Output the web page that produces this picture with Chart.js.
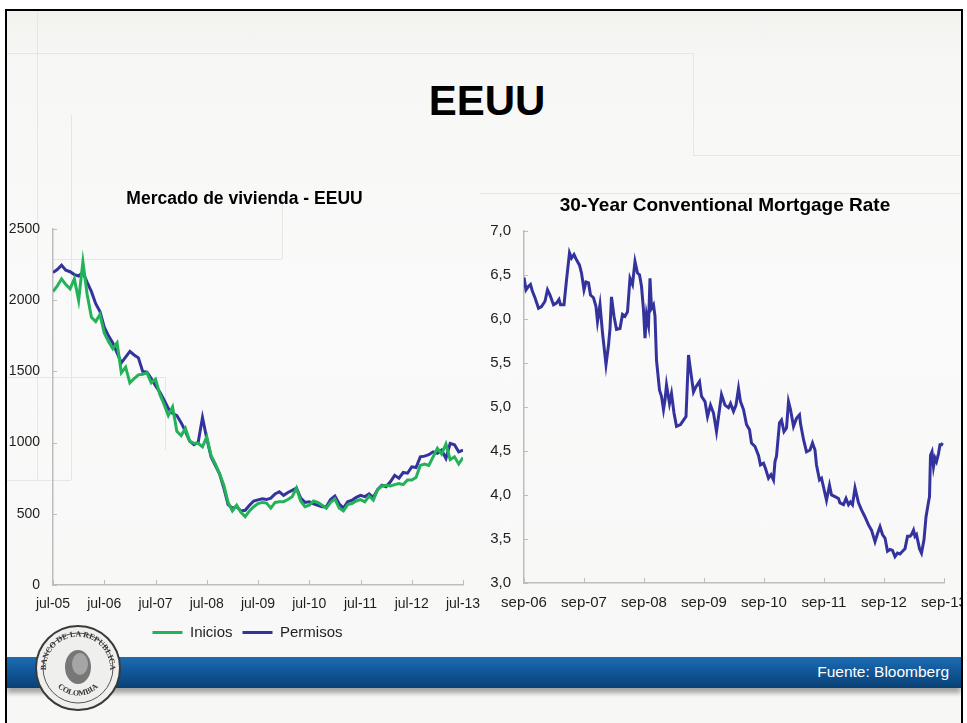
<!DOCTYPE html>
<html>
<head>
<meta charset="utf-8">
<script src="https://cdn.jsdelivr.net/npm/chart.js@4.4.0/dist/chart.umd.min.js"></script>
<style>
html, body { margin: 0; padding: 0; background: #fff; }
body { width: 967px; height: 723px; position: relative; overflow: hidden; font-family: "Liberation Sans", Arial, sans-serif; }
#slide { position: absolute; left: 7px; top: 11px; width: 954px; height: 720px;
  background: linear-gradient(#f2f3ef 0px, #f7f7f5 50px, #fafafa 300px, #f7f7f6 720px); }
#frame { position: absolute; left: 5px; top: 9px; width: 954px; height: 730px; border: 2px solid #000;
  box-shadow: 0 0 0 30px #fff; z-index: 10; pointer-events: none; }
.deco { position: absolute; border-color: #e6e6e4; border-style: solid; border-width: 0; z-index: 1; }
#title { position: absolute; left: 0; width: 974px; top: 77px; text-align: center; font-weight: bold; font-size: 42px; color: #000; z-index: 2; }
.box { position: absolute; z-index: 3; }
#band { position: absolute; left: 7px; top: 657px; width: 954px; height: 31px; z-index: 4;
  background: linear-gradient(#1d6cb3 0%, #11589a 45%, #0a4174 100%); box-shadow: 0 5px 5px rgba(0,0,0,0.35); }
#fuente { position: absolute; right: 12px; top: 6px; color: #fff; font-size: 15.5px; }
#logo { position: absolute; left: 34px; top: 624px; z-index: 5; }
</style>
</head>
<body>
<div id="slide"></div>
<div class="deco" style="left:7px;top:53px;width:686px;border-top-width:1px;"></div>
<div class="deco" style="left:693px;top:53px;height:102px;border-left-width:1px;"></div>
<div class="deco" style="left:693px;top:155px;width:268px;border-top-width:1px;"></div>
<div class="deco" style="left:37px;top:11px;height:470px;border-left-width:1px;"></div>
<div class="deco" style="left:71px;top:115px;height:365px;border-left-width:1px;"></div>
<div class="deco" style="left:7px;top:480px;width:64px;border-top-width:1px;"></div>
<div class="deco" style="left:53px;top:259px;width:229px;border-top-width:1px;"></div>
<div class="deco" style="left:282px;top:190px;height:69px;border-left-width:1px;"></div>
<div class="deco" style="left:7px;top:377px;width:158px;border-top-width:1px;"></div>
<div class="deco" style="left:165px;top:377px;height:73px;border-left-width:1px;"></div>
<div class="deco" style="left:480px;top:193px;width:481px;border-top-width:1px;"></div>
<div id="title">EEUU</div>

<div class="box" style="left:0;top:180px;width:490px;height:470px;"><canvas id="vivienda"></canvas></div>
<div class="box" style="left:480px;top:180px;width:487px;height:440px;"><canvas id="tasa"></canvas></div>

<div id="band"><div id="fuente">Fuente: Bloomberg</div></div>
<svg id="logo" width="88" height="88" viewBox="0 0 88 88">
  <defs>
    <path id="arcTop" d="M 15 58 A 32 32 0 1 1 73 58"/>
    <path id="arcBot" d="M 18 54 A 28 28 0 0 0 70 54"/>
  </defs>
  <circle cx="44" cy="44" r="42" fill="#efefed" stroke="#3a3a3a" stroke-width="2"/>
  <circle cx="44" cy="44" r="35" fill="none" stroke="#555" stroke-width="1"/>
  <text font-family="Liberation Serif, serif" font-size="8" font-weight="bold" fill="#333"><textPath href="#arcTop" startOffset="50%" text-anchor="middle">BANCO DE LA REPUBLICA</textPath></text>
  <text font-family="Liberation Serif, serif" font-size="8" font-weight="bold" fill="#333"><textPath href="#arcBot" startOffset="50%" text-anchor="middle">COLOMBIA</textPath></text>
  <ellipse cx="44" cy="43" rx="13" ry="17" fill="#777"/>
  <ellipse cx="46" cy="40" rx="8" ry="11" fill="#a5a5a5"/>
</svg>
<div id="frame"></div>

<script>
// Mercado de vivienda - EEUU (miles de unidades, mensual jul-05 .. jul-13)
var mesesViv = ['jul-05', 'jul-06', 'jul-07', 'jul-08', 'jul-09', 'jul-10', 'jul-11', 'jul-12', 'jul-13'];
var inicios = [
	2060, 2100, 2150, 2110, 2080, 2150, 2000, 2270, 2040, 1880, 1850, 1900,
	1770, 1710, 1660, 1700, 1490, 1530, 1420, 1450, 1476, 1480, 1490, 1420,
	1445, 1340, 1270, 1190, 1250, 1080, 1050, 1100, 1010, 995, 995, 970,
	1040, 910, 850, 780, 700, 580, 520, 560, 510, 480, 520, 550,
	572, 580, 575, 540, 580, 584, 585, 600, 620, 680, 590, 550,
	560, 590, 580, 560, 540, 580, 605, 540, 520, 565, 572, 590,
	600, 584, 625, 596, 670, 695, 700, 695, 705, 712, 705, 737,
	737, 755, 840, 850, 840, 900, 960, 920, 990, 880, 900, 850,
	895
];
var permisos = [
	2195, 2215, 2245, 2210, 2200, 2180, 2170, 2195, 2125, 2060, 1975, 1920,
	1810, 1750, 1700, 1630, 1560, 1600, 1640, 1615, 1595, 1500, 1495, 1450,
	1400, 1355, 1300, 1240, 1205, 1190, 1140, 1080, 1010, 985, 1003, 1176,
	1030, 900, 840, 780, 680, 565, 540, 550, 520, 525, 560, 590,
	598, 605, 600, 610, 640, 655, 630, 650, 665, 680, 610, 580,
	585, 570, 560, 550, 550, 600, 625, 570, 540, 585, 595, 615,
	630, 620, 640, 615, 670, 700, 690, 725, 770, 750, 790, 785,
	830, 825, 900, 905, 915, 935, 925, 948, 889, 995, 985, 935,
	948
];

// 30-Year Conventional Mortgage Rate (meses desde sep-06, tasa %)
var mesesTasa = ['sep-06', 'sep-07', 'sep-08', 'sep-09', 'sep-10', 'sep-11', 'sep-12', 'sep-13'];
var tasaMes = [
	0.0, 0.4, 0.9, 1.3, 1.7, 2.2, 2.9, 3.5, 4.2, 4.7, 5.2, 5.9, 6.5, 7.0, 7.3, 8.0,
	8.5, 9.1, 9.5, 10.0, 10.5, 11.1, 11.5, 12.0, 12.4, 12.9, 13.3, 13.9, 14.4, 14.7, 15.2, 15.7,
	16.4, 16.9, 17.2, 17.5, 18.0, 18.5, 19.2, 19.7, 20.2, 20.7, 21.2, 21.7, 22.2, 22.7, 23.1, 23.5,
	23.9, 24.2, 24.5, 24.9, 25.2, 25.5, 25.9, 26.2, 26.5, 27.1, 27.5, 27.9, 28.2, 28.5, 29.1, 29.5,
	30.0, 30.5, 31.3, 31.9, 32.4, 32.9, 33.3, 33.9, 34.4, 35.1, 35.5, 36.2, 36.7, 37.3, 37.9, 38.5,
	39.1, 39.5, 40.2, 40.9, 41.3, 41.9, 42.4, 42.9, 43.3, 43.9, 44.5, 45.1, 45.5, 46.2, 46.9, 47.3,
	47.9, 48.3, 48.9, 49.4, 49.9, 50.2, 50.5, 51.1, 51.5, 52.0, 52.5, 52.9, 53.3, 53.9, 54.5, 55.1,
	55.3, 55.9, 56.5, 57.2, 57.7, 58.2, 58.5, 59.1, 59.5, 59.9, 60.5, 61.1, 61.5, 62.2, 62.9, 63.2,
	63.9, 64.4, 64.9, 65.3, 65.7, 66.2, 66.9, 67.5, 68.2, 68.9, 69.5, 70.2, 70.7, 71.2, 71.7, 72.2,
	72.7, 73.2, 73.7, 74.2, 74.7, 75.2, 75.7, 76.2, 76.7, 77.2, 77.5, 77.9, 78.2, 78.5, 79.1, 79.5,
	80.0, 80.4, 80.9, 81.1, 81.3, 81.6, 81.9, 82.2, 82.5, 82.9, 83.2, 83.5, 83.7
];
var tasa = [
	6.47, 6.33, 6.37, 6.39, 6.31, 6.24, 6.12, 6.14, 6.20, 6.33, 6.27, 6.16, 6.18, 6.22, 6.16, 6.16,
	6.44, 6.75, 6.69, 6.73, 6.67, 6.61, 6.52, 6.33, 6.42, 6.41, 6.27, 6.24, 6.14, 5.97, 6.16, 5.84,
	5.48, 5.70, 5.89, 6.25, 6.03, 5.88, 5.89, 6.05, 6.03, 6.08, 6.46, 6.39, 6.65, 6.52, 6.50, 6.37,
	6.10, 5.78, 6.05, 5.93, 6.46, 6.12, 6.16, 6.03, 5.53, 5.19, 5.12, 4.97, 5.08, 5.25, 5.04, 5.15,
	4.93, 4.78, 4.80, 4.85, 4.89, 5.59, 5.42, 5.17, 5.23, 5.29, 5.12, 5.06, 4.89, 5.02, 4.93, 4.72,
	4.97, 5.14, 5.02, 4.99, 5.04, 4.95, 5.02, 5.21, 5.06, 4.97, 4.80, 4.74, 4.59, 4.55, 4.45, 4.34,
	4.36, 4.30, 4.19, 4.23, 4.17, 4.38, 4.44, 4.82, 4.85, 4.72, 4.76, 5.06, 4.97, 4.78, 4.87, 4.91,
	4.81, 4.63, 4.49, 4.51, 4.59, 4.51, 4.34, 4.17, 4.19, 4.09, 3.94, 4.11, 4.00, 3.98, 3.96, 3.91,
	3.89, 3.96, 3.89, 3.92, 3.89, 4.08, 3.91, 3.83, 3.75, 3.66, 3.60, 3.47, 3.56, 3.64, 3.55, 3.51,
	3.36, 3.38, 3.37, 3.30, 3.34, 3.33, 3.36, 3.39, 3.53, 3.53, 3.55, 3.60, 3.53, 3.55, 3.39, 3.34,
	3.49, 3.75, 3.92, 3.98, 4.45, 4.49, 4.32, 4.42, 4.38, 4.47, 4.57, 4.57, 4.59
];

var verde = '#22b257';
var azul = '#34339e';
var gris = '#bdbdbd';
var texto = '#1e1e1e';

Chart.defaults.font.family = '"Liberation Sans", Arial, sans-serif';
Chart.defaults.color = texto;
Chart.defaults.animation = false;

// marcas pequeñas hacia adentro en los ejes
var marcasInternas = {
	id: 'marcasInternas',
	beforeDatasetsDraw(chart) {
		var ctx = chart.ctx, a = chart.chartArea;
		var sx = chart.scales.x, sy = chart.scales.y;
		ctx.save();
		ctx.strokeStyle = gris;
		ctx.lineWidth = 1;
		sx.ticks.forEach(function(t) {
			var px = Math.round(sx.getPixelForValue(t.value)) + 0.5;
			ctx.beginPath(); ctx.moveTo(px, a.bottom); ctx.lineTo(px, a.bottom - 5); ctx.stroke();
		});
		sy.ticks.forEach(function(t) {
			var py = Math.round(sy.getPixelForValue(t.value)) + 0.5;
			ctx.beginPath(); ctx.moveTo(a.left, py); ctx.lineTo(a.left + 4, py); ctx.stroke();
		});
		ctx.restore();
	}
};

// corre titulo y leyenda horizontalmente (px)
var correr = {
	id: 'correr',
	afterLayout(chart, args, opts) {
		if (chart.titleBlock && opts.titulo) { chart.titleBlock.left += opts.titulo; chart.titleBlock.right += opts.titulo; }
		if (chart.legend && opts.leyenda) { chart.legend.left += opts.leyenda; chart.legend.right += opts.leyenda; }
	}
};

function pasosDe12(max) {
	return function(scale) {
		var t = [];
		for (var v = 0; v <= max; v += 12) t.push({ value: v });
		scale.ticks = t;
	};
}

function ejeX(max, etiquetas, tam) {
	return {
		type: 'linear', min: 0, max: max,
		afterBuildTicks: pasosDe12(max),
		ticks: {
			autoSkip: false, maxRotation: 0, padding: 3,
			font: { size: tam },
			callback: function(v) { return etiquetas[v / 12]; }
		},
		grid: { display: false },
		border: { color: gris, width: 1.5 },
		afterFit: function(s) { s.height = 30; s.paddingLeft = 0; s.paddingRight = 0; }
	};
}

var serieViv = function(arr) { return arr.map(function(v, i) { return { x: i, y: v }; }); };

new Chart(document.getElementById('vivienda'), {
	type: 'line',
	data: {
		datasets: [
			{ label: 'Inicios', data: serieViv(inicios), borderColor: verde, backgroundColor: verde, borderWidth: 3, pointRadius: 0, tension: 0 },
			{ label: 'Permisos', data: serieViv(permisos), borderColor: azul, backgroundColor: azul, borderWidth: 3, pointRadius: 0, tension: 0 }
		]
	},
	options: {
		responsive: true, maintainAspectRatio: false,
		layout: { padding: { left: 0, right: 27, top: 0, bottom: 0 } },
		plugins: {
			title: { display: true, text: 'Mercado de vivienda - EEUU', color: '#000',
				font: { size: 17.5, weight: 'bold' }, padding: { top: 9, bottom: 19 } },
			legend: {
				position: 'bottom',
				labels: {
					boxWidth: 30, boxHeight: 3, padding: 10, font: { size: 15 }, color: texto,
					generateLabels: function(chart) {
						return chart.data.datasets.map(function(d, i) {
							return { text: d.label, fillStyle: d.borderColor, strokeStyle: d.borderColor, lineWidth: 0, datasetIndex: i, fontColor: texto };
						});
					}
				}
			},
			correr: { titulo: 13, leyenda: 16 },
			tooltip: { enabled: false }
		},
		scales: {
			x: ejeX(96, mesesViv, 14),
			y: {
				min: 0, max: 2500,
				ticks: { stepSize: 500, padding: 5, font: { size: 14 },
					callback: function(v) { return String(v); } },
				grid: { display: false },
				border: { color: gris, width: 1.5 },
				afterFit: function(s) { s.width = 53; }
			}
		}
	},
	plugins: [marcasInternas, correr]
});

new Chart(document.getElementById('tasa'), {
	type: 'line',
	data: {
		datasets: [
			{ label: '30-Year Conventional Mortgage Rate', data: tasa.map(function(v, i) { return { x: tasaMes[i], y: v }; }),
				borderColor: azul, backgroundColor: azul, borderWidth: 3, pointRadius: 0, tension: 0 }
		]
	},
	options: {
		responsive: true, maintainAspectRatio: false,
		layout: { padding: { left: 0, right: 23, top: 0, bottom: 7 } },
		plugins: {
			title: { display: true, text: '30-Year Conventional Mortgage Rate', color: '#000',
				font: { size: 19, weight: 'bold' }, padding: { top: 14, bottom: 14 } },
			legend: { display: false },
			correr: { titulo: 13 },
			tooltip: { enabled: false }
		},
		scales: {
			x: ejeX(84, mesesTasa, 15),
			y: {
				min: 3, max: 7,
				ticks: { stepSize: 0.5, padding: 5, font: { size: 15 },
					callback: function(v) { return v.toFixed(1).replace('.', ','); } },
				grid: { display: false },
				border: { color: gris, width: 1.5 },
				afterFit: function(s) { s.width = 44; }
			}
		}
	},
	plugins: [marcasInternas, correr]
});
</script>
</body>
</html>
